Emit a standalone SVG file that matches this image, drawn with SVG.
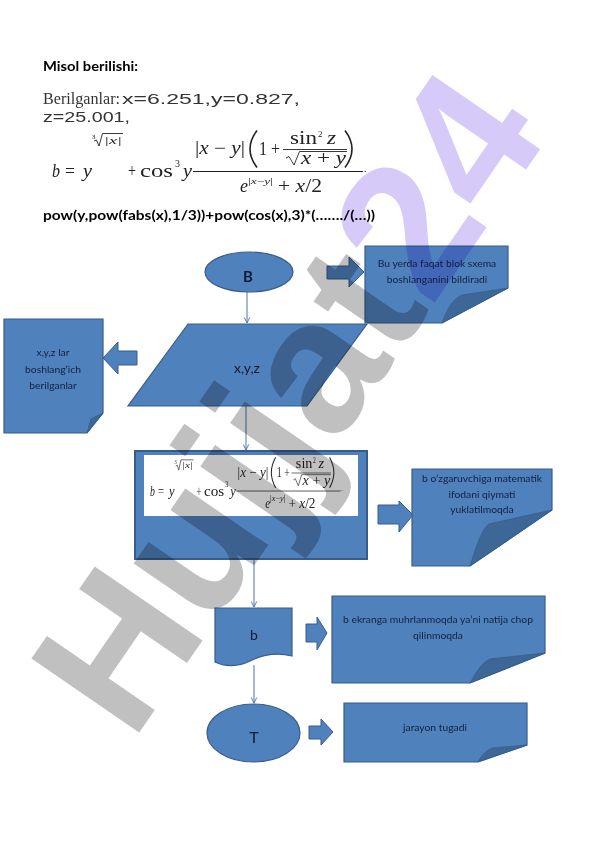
<svg xmlns="http://www.w3.org/2000/svg" width="596" height="842" viewBox="0 0 596 842">
<defs>
<style>
.shape{fill:#4f81bd;stroke:#385d8a;stroke-width:1.2}
.flap{fill:#3d6797;stroke:#385d8a;stroke-width:0.8}
.blk{fill:#4f81bd;stroke:#385d8a;stroke-width:1}
.conn{stroke:#4a72b0;stroke-width:1;fill:none}
.note{font-family:Lato,"Open Sans",sans-serif;font-size:10.3px;fill:#14213d;text-anchor:middle}
.lbl{font-family:Lato,"Liberation Sans",sans-serif;fill:#111a33;text-anchor:middle}
.head{font-family:Lato,"Open Sans",sans-serif;font-weight:bold;font-size:14px;fill:#000}
.m{font-family:"Liberation Serif","Times New Roman",serif;font-size:18px;fill:#222}
.g{font-family:"Liberation Sans",Arial,sans-serif;font-size:15px;fill:#333}
.i{font-style:italic}
.ln{stroke:#222;fill:none}
.wm{font-family:"Liberation Sans",Arial,sans-serif;font-weight:bold;font-size:190px;mix-blend-mode:multiply}
</style>
<marker id="ah" viewBox="0 0 10 10" refX="9" refY="5" markerWidth="7" markerHeight="7" orient="auto" markerUnits="userSpaceOnUse">
<path d="M1,1 L9,5 L1,9" fill="none" stroke="#4a72b0" stroke-width="1.3"/>
</marker>
</defs>
<rect width="596" height="842" fill="#fff"/>

<g id="header">
<text class="head" x="43" y="71" font-size="13" textLength="95" lengthAdjust="spacingAndGlyphs">Misol berilishi:</text>
<text x="43" y="104" font-family="Liberation Serif, serif" font-size="16" fill="#333" textLength="77" lengthAdjust="spacingAndGlyphs">Berilganlar:</text>
<text class="g" x="122" y="104" textLength="178" lengthAdjust="spacingAndGlyphs">x=6.251,y=0.827,</text>
<text class="g" x="43" y="121.5" textLength="87" lengthAdjust="spacingAndGlyphs">z=25.001,</text>
<text class="head" x="43" y="220" font-size="14.5" textLength="332" lengthAdjust="spacingAndGlyphs">pow(y,pow(fabs(x),1/3))+pow(cos(x),3)*(……./(…))</text>
</g>

<g id="formula-top" class="m">
<text x="52" y="177" class="i" textLength="8" lengthAdjust="spacingAndGlyphs">b</text>
<text x="65" y="177" textLength="10" lengthAdjust="spacingAndGlyphs">=</text>
<text x="83" y="177" class="i" textLength="9" lengthAdjust="spacingAndGlyphs">y</text>
<text x="92" y="139" font-size="7">3</text>
<path class="ln" d="M94,141 L96.5,140 L99,146 L102.5,133.5 L123,133.5" stroke-width="0.9"/>
<text x="104" y="144" font-size="10" class="i" textLength="18" lengthAdjust="spacingAndGlyphs">|x|</text>
<text x="128" y="177" textLength="8" lengthAdjust="spacingAndGlyphs">+</text>
<text x="140" y="177" textLength="33" lengthAdjust="spacingAndGlyphs">cos</text>
<text x="175" y="167" font-size="10">3</text>
<text x="183" y="177" class="i" textLength="9" lengthAdjust="spacingAndGlyphs">y</text>
<line class="ln" x1="193" y1="171.5" x2="363" y2="171.5" stroke-width="1"/>
<text x="364" y="172" font-size="10">.</text>
<text x="195" y="154" textLength="50" lengthAdjust="spacingAndGlyphs">|<tspan class="i">x</tspan> − <tspan class="i">y</tspan>|</text>
<path class="ln" d="M257,130.5 Q243,149 257,167.5" stroke-width="1.6"/>
<text x="259" y="155" textLength="21" lengthAdjust="spacingAndGlyphs">1 +</text>
<text x="290" y="144" textLength="27" lengthAdjust="spacingAndGlyphs">sin</text>
<text x="318" y="137" font-size="9">2</text>
<text x="327" y="144" class="i" textLength="9" lengthAdjust="spacingAndGlyphs">z</text>
<line class="ln" x1="283" y1="149.5" x2="347" y2="149.5" stroke-width="0.9"/>
<path class="ln" d="M286,158 L289,156.5 L294,165 L299.5,151.5 L347,151.5" stroke-width="0.9"/>
<text x="301" y="164" textLength="45" lengthAdjust="spacingAndGlyphs"><tspan class="i">x</tspan> + <tspan class="i">y</tspan></text>
<path class="ln" d="M345,130.5 Q359,149 345,167.5" stroke-width="1.6"/>
<text x="240" y="192" class="i">e</text>
<text x="248" y="184" font-size="9" textLength="25" lengthAdjust="spacingAndGlyphs">|<tspan class="i">x</tspan>−<tspan class="i">y</tspan>|</text>
<text x="278" y="192" textLength="44" lengthAdjust="spacingAndGlyphs">+ <tspan class="i">x</tspan>/2</text>
</g>

<g id="connectors">
<line class="conn" x1="247" y1="292" x2="247" y2="323" marker-end="url(#ah)"/>
<line class="conn" x1="246" y1="406" x2="246" y2="450" marker-end="url(#ah)"/>
<line class="conn" x1="254" y1="559" x2="254" y2="607" marker-end="url(#ah)"/>
<line class="conn" x1="254" y1="665" x2="254" y2="703" marker-end="url(#ah)"/>
<polygon class="blk" points="327,266 349,266 349,257 364,272 349,287 349,279 327,279"/>
<polygon class="blk" points="137,351 118,351 118,342 103,358 118,374 118,365 137,365"/>
<polygon class="blk" points="378,505 399,505 399,501 413,515 399,532 399,524 378,524"/>
<polygon class="blk" points="306,624 317,624 317,617 327,633 317,650 317,642 306,642"/>
<polygon class="blk" points="309,726 321,726 321,719 333,732 321,745 321,739 309,739"/>
</g>

<g id="node-B">
<ellipse class="shape" cx="249" cy="272" rx="44" ry="20"/>
<text class="lbl" x="248" y="282" font-size="15" font-weight="bold" font-family="Lato, sans-serif">B</text>
</g>

<g id="note-start">
<path class="shape" d="M365,246 H508 V288 L442,323 H365 Z"/>
<path class="flap" d="M442,323 C447,310 452,299 462,295 L508,288 Z"/>
<text class="note" x="437" y="267">Bu yerda faqat blok sxema</text>
<text class="note" x="437" y="283">boshlanganini bildiradi</text>
</g>

<g id="node-input">
<polygon class="shape" points="188,324 367,324 307,406 128,406"/>
<text class="lbl" x="247" y="373" font-size="14">x,y,z</text>
</g>

<g id="note-input">
<path class="shape" d="M4,319 H103 V413 L87,433 H4 Z"/>
<path class="flap" d="M87,433 L91,419 L103,413 Z"/>
<text class="note" x="53" y="356">x,y,z lar</text>
<text class="note" x="53" y="373">boshlang’ich</text>
<text class="note" x="53" y="389">berilganlar</text>
</g>

<g id="node-process">
<rect x="135" y="451" width="232" height="108" fill="#4f81bd" stroke="#385d8a" stroke-width="2"/>
<rect x="144" y="455" width="214" height="61" fill="#fff"/>
<use href="#formula-top" transform="matrix(0.613,0,0,0.82,118.1,350.4)"/>
</g>

<g id="note-process">
<path class="shape" d="M412,469 H552 V510 L470,566 H412 Z"/>
<path class="flap" d="M470,566 C476,548 481,530 489,524 L552,510 Z"/>
<text class="note" x="482" y="482">b o’zgaruvchiga matematik</text>
<text class="note" x="482" y="498">ifodani qiymati</text>
<text class="note" x="482" y="513">yuklatilmoqda</text>
</g>

<g id="node-output">
<path class="shape" d="M215,608 H292 V656 C276,652 262,655 250,661 C238,667 225,667 215,662 Z"/>
<text class="lbl" x="254" y="640" font-size="14">b</text>
</g>

<g id="note-output">
<path class="shape" d="M332,596 H545 V653 L470,683 H332 Z"/>
<path class="flap" d="M470,683 C476,673 481,663 490,659 L545,653 Z"/>
<text class="note" x="438" y="623">b ekranga muhrlanmoqda ya’ni natija chop</text>
<text class="note" x="438" y="639">qilinmoqda</text>
</g>

<g id="node-T">
<ellipse class="shape" cx="253.5" cy="733" rx="46.5" ry="29"/>
<text class="lbl" x="254" y="743" font-size="16" font-family="Liberation Sans, sans-serif">T</text>
</g>

<g id="note-end">
<path class="shape" d="M344,703 H527 V745 L478,762 H344 Z"/>
<path class="flap" d="M478,762 C482,755 486,750 493,748 L527,745 Z"/>
<text class="note" x="435" y="731">jarayon tugadi</text>
</g>

<g id="watermark">
<text class="wm" transform="translate(132,743) rotate(-55.5)"><tspan fill="#c0c0c0">Hujjat</tspan><tspan fill="#d6cbf8">24</tspan></text>
</g>
</svg>
